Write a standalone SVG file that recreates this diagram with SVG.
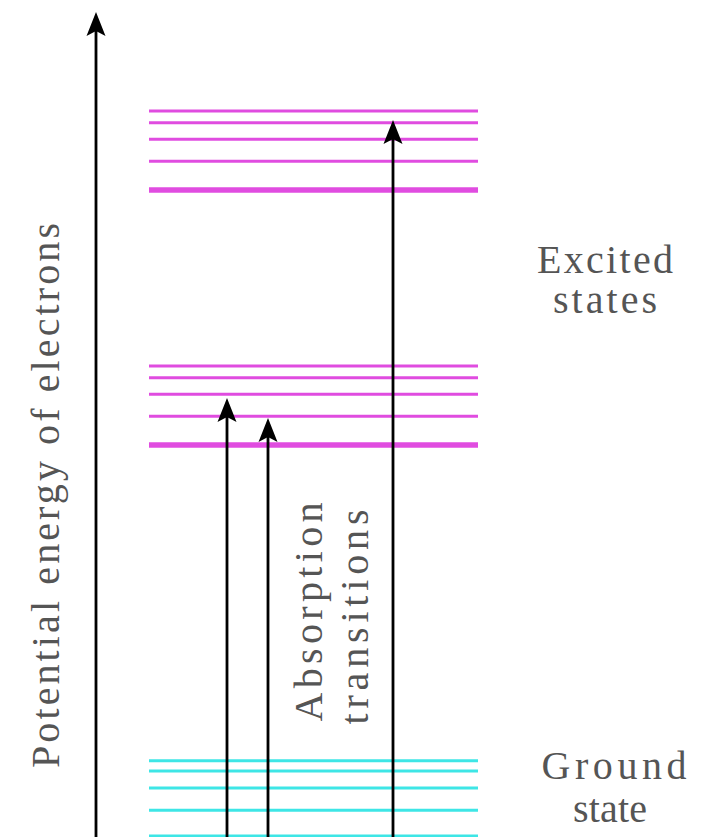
<svg xmlns="http://www.w3.org/2000/svg" width="726" height="837" viewBox="0 0 726 837">
<defs>
<style>
.ex{stroke:#e04ce0;stroke-width:3;fill:none}
.exb{stroke:#e04ce0;stroke-width:5.5;fill:none}
.gr{stroke:#3ee6e6;stroke-width:3;fill:none}
.arr{stroke:#000;stroke-width:2.8;fill:none;marker-end:url(#head)}
.lbl{font-family:"Liberation Serif","Times New Roman",serif;font-size:40px;fill:#555}
</style>
<marker id="head" markerUnits="userSpaceOnUse" orient="auto" refX="0" refY="0" markerWidth="40" markerHeight="40" overflow="visible">
<path d="M15 0 L-9 -9.5 L-4 0 L-9 9.5 Z" fill="#000"/>
</marker>
</defs>
<rect width="726" height="837" fill="#fff"/>
<g id="excited-upper">
<line class="ex" x1="149" y1="111" x2="478" y2="111"/>
<line class="ex" x1="149" y1="122.7" x2="478" y2="122.7"/>
<line class="ex" x1="149" y1="139.3" x2="478" y2="139.3"/>
<line class="ex" x1="149" y1="161.3" x2="478" y2="161.3"/>
<line class="exb" x1="149" y1="190" x2="478" y2="190"/>
</g>
<g id="excited-lower">
<line class="ex" x1="149" y1="366" x2="478" y2="366"/>
<line class="ex" x1="149" y1="377.7" x2="478" y2="377.7"/>
<line class="ex" x1="149" y1="394.3" x2="478" y2="394.3"/>
<line class="ex" x1="149" y1="416.3" x2="478" y2="416.3"/>
<line class="exb" x1="149" y1="445" x2="478" y2="445"/>
</g>
<g id="ground">
<line class="gr" x1="149" y1="760.7" x2="478" y2="760.7"/>
<line class="gr" x1="149" y1="771" x2="478" y2="771"/>
<line class="gr" x1="149" y1="788" x2="478" y2="788"/>
<line class="gr" x1="149" y1="810.3" x2="478" y2="810.3"/>
<line class="gr" x1="149" y1="836" x2="478" y2="836"/>
</g>
<g id="connectors">
<line class="arr" x1="96" y1="837" x2="96" y2="27"/>
<line class="arr" x1="227" y1="837" x2="227" y2="413"/>
<line class="arr" x1="268" y1="837" x2="268" y2="433"/>
<line class="arr" x1="393" y1="837" x2="393" y2="135"/>
</g>
<g id="label-axis">
<text class="lbl" transform="translate(59,768) rotate(-90)" textLength="545" lengthAdjust="spacing">Potential energy of electrons</text>
</g>
<g id="label-absorption">
<text class="lbl" text-anchor="middle" transform="translate(322,612) rotate(-90)" textLength="219" lengthAdjust="spacing">Absorption</text>
<text class="lbl" text-anchor="middle" transform="translate(368,617) rotate(-90)" textLength="215" lengthAdjust="spacing">transitions</text>
</g>
<g id="label-excited">
<text class="lbl" text-anchor="middle" x="605" y="273" textLength="136" lengthAdjust="spacing">Excited</text>
<text class="lbl" text-anchor="middle" x="605" y="313" textLength="104" lengthAdjust="spacing">states</text>
</g>
<g id="label-ground">
<text class="lbl" text-anchor="middle" x="614" y="779" textLength="145" lengthAdjust="spacing">Ground</text>
<text class="lbl" text-anchor="middle" x="610" y="822" textLength="74" lengthAdjust="spacing">state</text>
</g>
</svg>
